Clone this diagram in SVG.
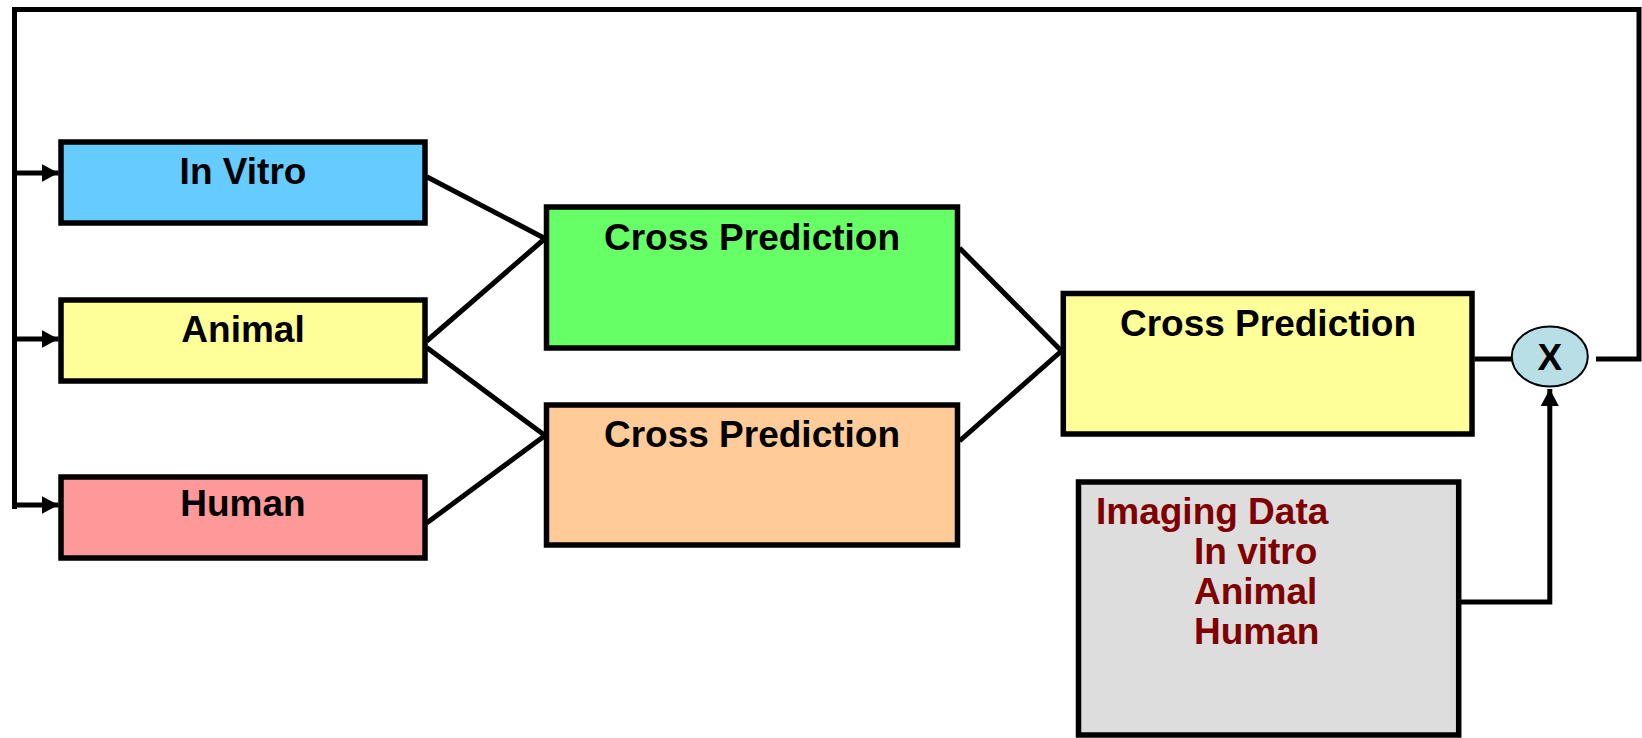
<svg xmlns="http://www.w3.org/2000/svg" width="1642" height="738" viewBox="0 0 1642 738">
  <style>
    .box { stroke: #000; stroke-width: 5.5; }
    .lbl { font-family: "Liberation Sans", Arial, sans-serif; font-weight: bold; font-size: 37px; fill: #000; }
    .data { font-family: "Liberation Sans", Arial, sans-serif; font-weight: bold; font-size: 37px; fill: #800000; }
    .wire { fill: none; stroke: #000; stroke-width: 5; stroke-linejoin: miter; }
  </style>
  <defs>
    <marker id="arrow" markerUnits="userSpaceOnUse" markerWidth="18" markerHeight="19" refX="17" refY="9" orient="auto">
      <path d="M0,0 L17,9 L0,18 z" fill="#000"/>
    </marker>
  </defs>
  <rect x="0" y="0" width="1642" height="738" fill="#fff"/>

  <g id="connectors">
    <!-- feedback loop from the multiplier back to the three sources -->
    <polyline class="wire" points="1596,359 1639,359 1639,9.5 14.5,9.5 14.5,509"/>
    <line class="wire" x1="14.5" y1="173" x2="58.5" y2="173" marker-end="url(#arrow)"/>
    <line class="wire" x1="14.5" y1="339" x2="58.5" y2="339" marker-end="url(#arrow)"/>
    <line class="wire" x1="14.5" y1="505" x2="58.5" y2="505" marker-end="url(#arrow)"/>
    <!-- sources to first-level cross prediction -->
    <line class="wire" x1="426.7" y1="176.7" x2="545" y2="238.5"/>
    <line class="wire" x1="426.7" y1="341" x2="545" y2="238.5"/>
    <line class="wire" x1="426.7" y1="347.5" x2="545" y2="435.6"/>
    <line class="wire" x1="426.7" y1="523" x2="545" y2="435.6"/>
    <!-- first level to second level -->
    <line class="wire" x1="959.5" y1="248" x2="1061.5" y2="351"/>
    <line class="wire" x1="959.5" y1="441" x2="1061.5" y2="351"/>
    <!-- second level to multiplier -->
    <line class="wire" x1="1474.5" y1="359" x2="1512" y2="359"/>
    <!-- imaging data to multiplier -->
    <polyline class="wire" points="1461,602 1549.8,602 1549.8,389" marker-end="url(#arrow)"/>
  </g>

  <g id="in-vitro">
    <rect class="box" x="61" y="142" width="364" height="81" fill="#66CCFF"/>
    <text class="lbl" x="243" y="183.5" text-anchor="middle">In Vitro</text>
  </g>
  <g id="animal">
    <rect class="box" x="61" y="300" width="364" height="81" fill="#FFFF99"/>
    <text class="lbl" x="243" y="342" text-anchor="middle">Animal</text>
  </g>
  <g id="human">
    <rect class="box" x="61" y="477" width="364" height="81" fill="#FF9999"/>
    <text class="lbl" x="243" y="516" text-anchor="middle">Human</text>
  </g>

  <g id="cross-prediction-upper">
    <rect class="box" x="546.5" y="207" width="411" height="141" fill="#66FF66"/>
    <text class="lbl" x="752" y="250" text-anchor="middle">Cross Prediction</text>
  </g>
  <g id="cross-prediction-lower">
    <rect class="box" x="546.5" y="405" width="411" height="140" fill="#FFCC99"/>
    <text class="lbl" x="752" y="447" text-anchor="middle">Cross Prediction</text>
  </g>
  <g id="cross-prediction-final">
    <rect class="box" x="1063.3" y="293.5" width="408.7" height="140.5" fill="#FFFF99"/>
    <text class="lbl" x="1268" y="335.5" text-anchor="middle">Cross Prediction</text>
  </g>

  <g id="multiplier">
    <ellipse cx="1549.8" cy="356.5" rx="38" ry="30" fill="#B9DFE6" stroke="#000" stroke-width="2"/>
    <text class="lbl" x="1549.8" y="369.5" text-anchor="middle" font-size="38">X</text>
  </g>

  <g id="imaging-data">
    <rect class="box" x="1078.5" y="482" width="380.2" height="253" fill="#DDDDDD"/>
    <text class="data" x="1096" y="523.5">Imaging Data</text>
    <text class="data" x="1194" y="563.5">In vitro</text>
    <text class="data" x="1194" y="604">Animal</text>
    <text class="data" x="1194" y="644">Human</text>
  </g>
</svg>
